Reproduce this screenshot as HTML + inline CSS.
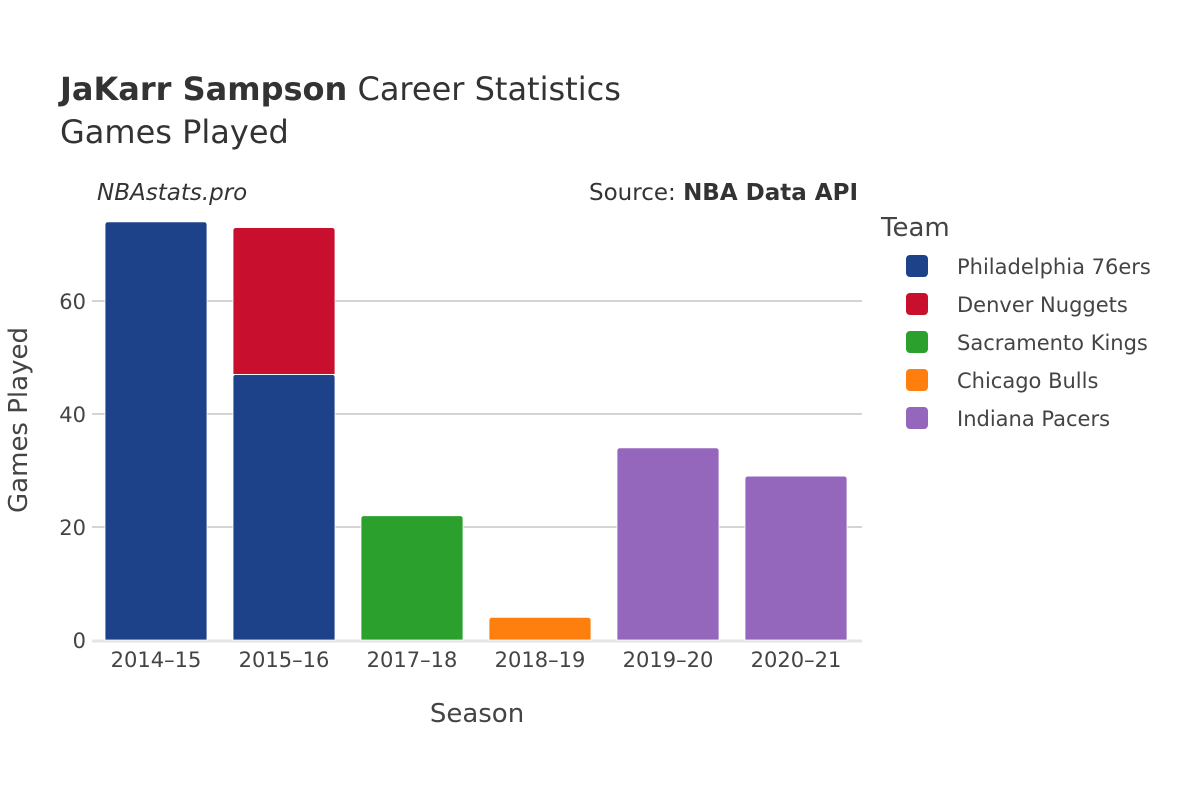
<!DOCTYPE html>
<html><head><meta charset="utf-8"><style>
body{margin:0;background:#fff;}
svg text{font-family:"DejaVu Sans","Liberation Sans",sans-serif;fill:#444;}
</style></head><body>
<svg id="chart" width="1200" height="800" xmlns="http://www.w3.org/2000/svg">
<rect width="1200" height="800" fill="#fff"/>
<text x="60" y="100" font-size="32" style="fill:#333"><tspan font-weight="bold">JaKarr Sampson</tspan> Career Statistics</text>
<text x="60" y="143" font-size="32" style="fill:#333">Games Played</text>
<text x="97" y="200" font-size="23" font-style="italic" style="fill:#333">NBAstats.pro</text>
<text x="858" y="200" font-size="23" text-anchor="end" style="fill:#333">Source: <tspan font-weight="bold">NBA Data API</tspan></text>
<g id="grid"></g>
<g id="bars"></g>
<g id="xticks"></g>
<text x="477" y="722" font-size="26" text-anchor="middle">Season</text>
<text transform="translate(27,420) rotate(-90)" font-size="26" text-anchor="middle">Games Played</text>
<g id="legend"></g>
</svg>
<script>
const seasons=["2014–15","2015–16","2017–18","2018–19","2019–20","2020–21"];
const teams=["Philadelphia 76ers","Denver Nuggets","Sacramento Kings","Chicago Bulls","Indiana Pacers"];
const colors=["#1d428a","#c8102e","#2ca02c","#ff7f0e","#9467bd"];
const phi=[74,47,0,0,0,0];
const den=[0,26,0,0,0,0];
const sac=[0,0,22,0,0,0];
const chi=[0,0,0,4,0,0];
const ind=[0,0,0,0,34,29];
const yTicks=[0,20,40,60];
const series=[phi,den,sac,chi,ind];
const NS="http://www.w3.org/2000/svg";
const x0=92,step=128,y0=640,ppu=5.65,bw=102;
const X=i=>x0+step*i+step/2;
const Y=v=>y0-v*ppu;
function mk(t,a,p){const e=document.createElementNS(NS,t);for(const k in a)e.setAttribute(k,a[k]);p.appendChild(e);return e;}
const grid=document.getElementById('grid');
yTicks.forEach(v=>{
 if(v>0){const l=mk('line',{x1:x0,x2:862,y1:Y(v),y2:Y(v),stroke:'#bbb','stroke-width':1.3},grid);
 
 }
 const t=mk('text',{x:x0-6,y:Y(v)+8,'font-size':21,'text-anchor':'end'},grid);t.textContent=v;
 
 
});
const zl=mk('line',{x1:x0,x2:862,y1:y0+1,y2:y0+1,stroke:'#e5e5e5','stroke-width':3},grid);


const bars=document.getElementById('bars');
seasons.forEach((s,i)=>{
 let base=0;
 series.forEach((ser,k)=>{
  const v=ser[i]; if(!v)return;
  const top=Y(base+v),bot=Y(base);
  const r=mk('path',{d:`M${X(i)-bw/2},${bot}V${top+3}Q${X(i)-bw/2},${top} ${X(i)-bw/2+3},${top}H${X(i)+bw/2-3}Q${X(i)+bw/2},${top} ${X(i)+bw/2},${top+3}V${bot}Z`,fill:colors[k],stroke:'#fff','stroke-width':0.8},bars);
  
  
  base+=v;
 });
 const t=mk('text',{x:X(i),y:667,'font-size':21,'text-anchor':'middle'},document.getElementById('xticks'));t.textContent=s;
 
 
});
const lg=document.getElementById('legend');
const lt=mk('text',{x:881,y:236,'font-size':26},lg);lt.textContent="Team";


teams.forEach((t,k)=>{
 const y=266+k*38;
 const g=mk('g',{},lg);
 
 
 mk('rect',{x:906,y:y-11,width:22,height:22,rx:4,fill:colors[k]},g);
 const tx=mk('text',{x:957,y:y+8,'font-size':21},g);tx.textContent=t;
});
</script>
</body></html>
